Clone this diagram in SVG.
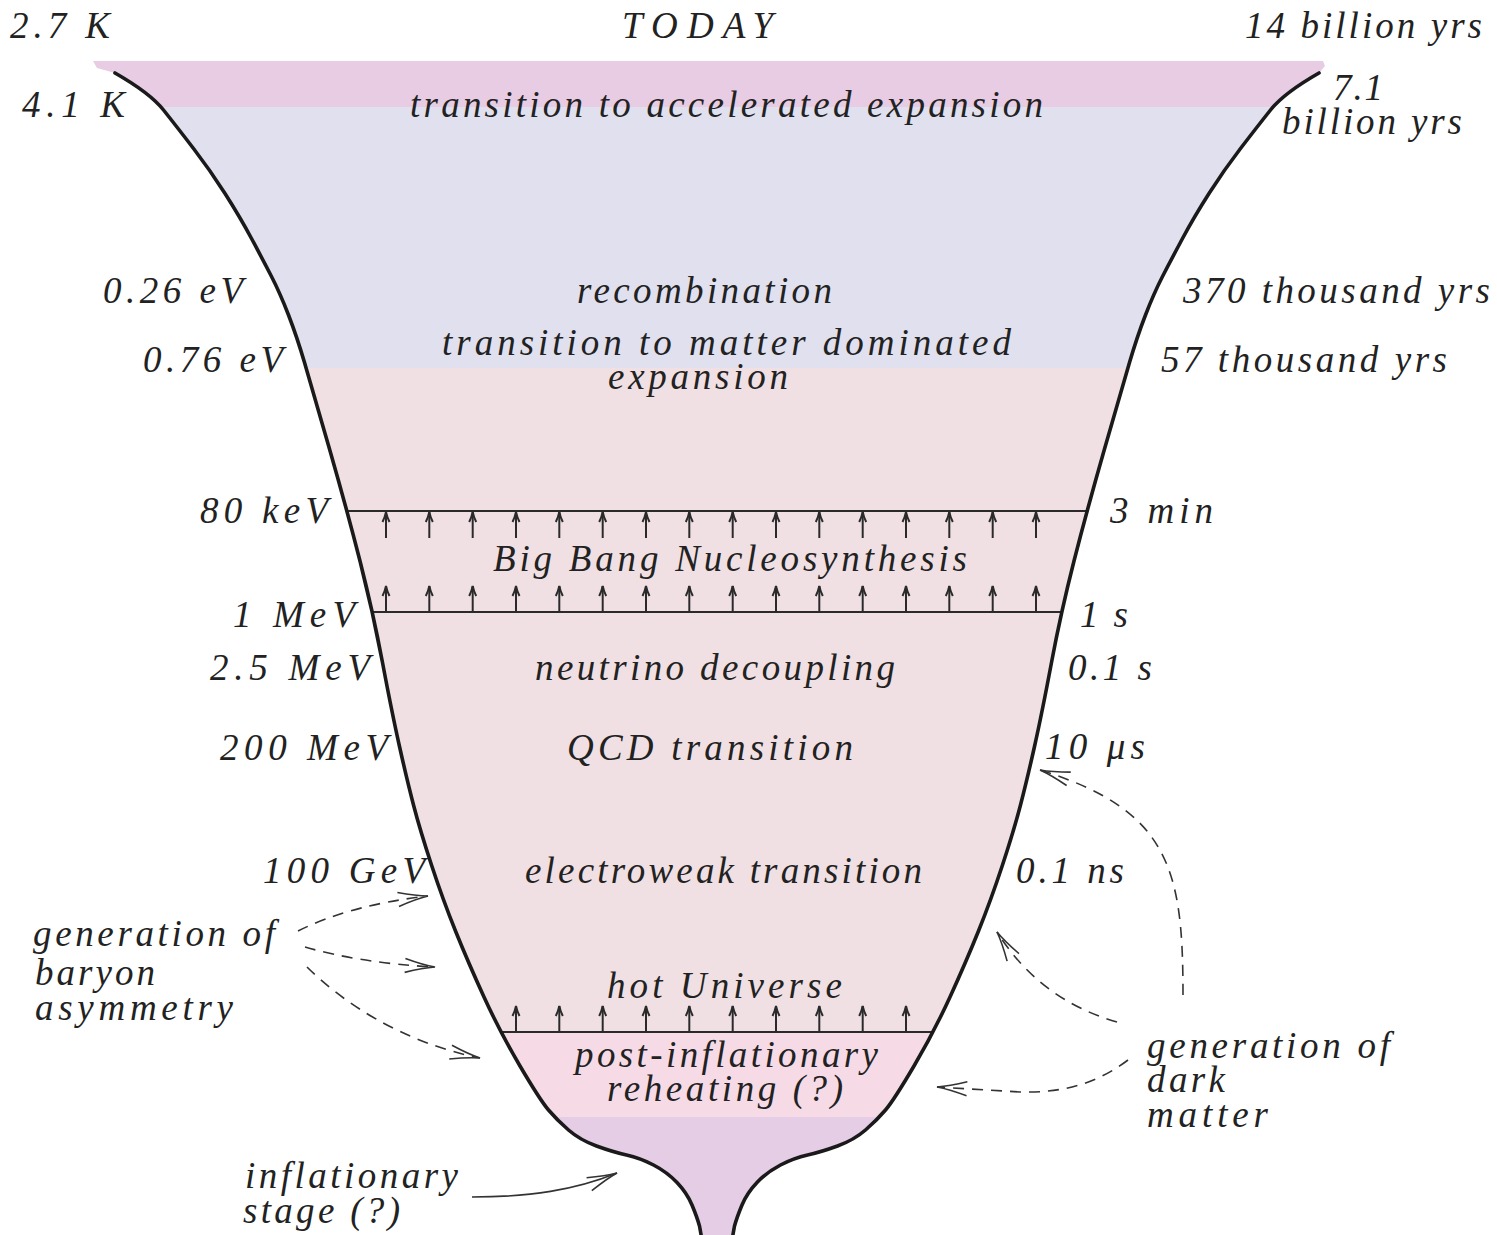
<svg xmlns="http://www.w3.org/2000/svg" xmlns:xlink="http://www.w3.org/1999/xlink" width="1497" height="1235" viewBox="0 0 1497 1235">
<style>
text{font-family:"Liberation Serif","DejaVu Serif",serif;font-style:italic;font-size:37px;fill:#222}
.outline{fill:none;stroke:#1a1a1a;stroke-width:3.6;stroke-linejoin:round;stroke-linecap:round}
.hline{stroke:#2a2a2a;stroke-width:2}
.tick line,.tick path{stroke:#2a2a2a;stroke-width:2;fill:none}
.dash{fill:none;stroke:#333;stroke-width:1.6;stroke-dasharray:11 8}
.solid{fill:none;stroke:#333;stroke-width:1.6}
</style>
<defs>
<path id="funnel" d="M115,73 Q150,93 163.5,110 Q177,127 193.5,148.5 Q210,170 225,193.5 Q240,217 251.5,238.5 Q263,260 271.5,276.5 Q280,293 288.5,315 Q297,337 304.5,362.5 Q312,388 329.5,449 Q347,510 360,561 Q373,612 382.5,662.5 Q392,713 399.5,746.5 Q407,780 413.5,805 Q420,830 431.5,865 Q443,900 455.5,931 Q468,962 484,997 Q500,1032 520,1066 Q540,1100 548.5,1110 Q557,1120 568.5,1130 Q580,1140 596.5,1146 Q613,1152 626.5,1155 Q640,1158 653.5,1165 Q667,1172 677,1182.5 Q687,1193 692,1205 Q697,1217 699.5,1226 L702,1240 L732,1240 L734.5,1226 Q737,1217 742,1205 Q747,1193 757,1182.5 Q767,1172 780.5,1165 Q794,1158 807.5,1155 Q821,1152 837.5,1146 Q854,1140 865.5,1130 Q877,1120 885.5,1110 Q894,1100 914,1066 Q934,1032 950,997 Q966,962 978.5,931 Q991,900 1002.5,865 Q1014,830 1020.5,805 Q1027,780 1034.5,746.5 Q1042,713 1051.5,662.5 Q1061,612 1074,561 Q1087,510 1104.5,449 Q1122,388 1129.5,362.5 Q1137,337 1145.5,315 Q1154,293 1162.5,276.5 Q1171,260 1182.5,238.5 Q1194,217 1209,193.5 Q1224,170 1240.5,148.5 Q1257,127 1270.5,110 Q1284,93 1319,73 L1325,66 L1323,61 L93,61 L97,68 Z"/>
<clipPath id="clipF"><use xlink:href="#funnel"/></clipPath>
<g id="tk" class="tick"><line x1="0" y1="0" x2="0" y2="-26"/><path d="M-3.5,-16 Q-1,-21 0,-26 Q1,-21 3.5,-16"/></g>
<marker id="oa" markerUnits="userSpaceOnUse" markerWidth="40" markerHeight="20" viewBox="-36 -10 40 20" refX="0" refY="0" orient="auto" overflow="visible">
<path d="M-30,-7 Q-12,-1.5 0,0 Q-12,1.5 -30,7" fill="none" stroke="#333" stroke-width="1.6"/>
</marker>
</defs>

<g id="bands" clip-path="url(#clipF)">
<rect x="80" y="55" width="1260" height="52" fill="#e7cce3"/>
<rect x="80" y="107" width="1260" height="261" fill="#e1e0ee"/>
<rect x="80" y="368" width="1260" height="664" fill="#f0e0e3"/>
<rect x="80" y="1032" width="1260" height="85" fill="#f6dbe7"/>
<rect x="80" y="1117" width="1260" height="125" fill="#e5cde5"/>
</g>

<g id="bbn-lines">
<line class="hline" x1="347" y1="511" x2="1088" y2="511"/>
<line class="hline" x1="373" y1="612" x2="1061" y2="612"/>
<line class="hline" x1="500" y1="1032" x2="934" y2="1032"/>
</g>

<g id="bbn-top-arrows">
<use xlink:href="#tk" x="386" y="538"/><use xlink:href="#tk" x="429.3" y="538"/><use xlink:href="#tk" x="472.7" y="538"/><use xlink:href="#tk" x="516" y="538"/><use xlink:href="#tk" x="559.3" y="538"/><use xlink:href="#tk" x="602.7" y="538"/><use xlink:href="#tk" x="646" y="538"/><use xlink:href="#tk" x="689.3" y="538"/><use xlink:href="#tk" x="732.7" y="538"/><use xlink:href="#tk" x="776" y="538"/><use xlink:href="#tk" x="819.3" y="538"/><use xlink:href="#tk" x="862.7" y="538"/><use xlink:href="#tk" x="906" y="538"/><use xlink:href="#tk" x="949.3" y="538"/><use xlink:href="#tk" x="992.7" y="538"/><use xlink:href="#tk" x="1036" y="538"/>
</g>
<g id="bbn-bottom-arrows">
<use xlink:href="#tk" x="386" y="612"/><use xlink:href="#tk" x="429.3" y="612"/><use xlink:href="#tk" x="472.7" y="612"/><use xlink:href="#tk" x="516" y="612"/><use xlink:href="#tk" x="559.3" y="612"/><use xlink:href="#tk" x="602.7" y="612"/><use xlink:href="#tk" x="646" y="612"/><use xlink:href="#tk" x="689.3" y="612"/><use xlink:href="#tk" x="732.7" y="612"/><use xlink:href="#tk" x="776" y="612"/><use xlink:href="#tk" x="819.3" y="612"/><use xlink:href="#tk" x="862.7" y="612"/><use xlink:href="#tk" x="906" y="612"/><use xlink:href="#tk" x="949.3" y="612"/><use xlink:href="#tk" x="992.7" y="612"/><use xlink:href="#tk" x="1036" y="612"/>
</g>
<g id="hot-arrows">
<use xlink:href="#tk" x="516" y="1032"/><use xlink:href="#tk" x="559.3" y="1032"/><use xlink:href="#tk" x="602.7" y="1032"/><use xlink:href="#tk" x="646" y="1032"/><use xlink:href="#tk" x="689.3" y="1032"/><use xlink:href="#tk" x="732.7" y="1032"/><use xlink:href="#tk" x="776" y="1032"/><use xlink:href="#tk" x="819.3" y="1032"/><use xlink:href="#tk" x="862.7" y="1032"/><use xlink:href="#tk" x="906" y="1032"/>
</g>

<g id="outline">
<path class="outline" d="M115,73 Q150,93 163.5,110 Q177,127 193.5,148.5 Q210,170 225,193.5 Q240,217 251.5,238.5 Q263,260 271.5,276.5 Q280,293 288.5,315 Q297,337 304.5,362.5 Q312,388 329.5,449 Q347,510 360,561 Q373,612 382.5,662.5 Q392,713 399.5,746.5 Q407,780 413.5,805 Q420,830 431.5,865 Q443,900 455.5,931 Q468,962 484,997 Q500,1032 520,1066 Q540,1100 548.5,1110 Q557,1120 568.5,1130 Q580,1140 596.5,1146 Q613,1152 626.5,1155 Q640,1158 653.5,1165 Q667,1172 677,1182.5 Q687,1193 692,1205 Q697,1217 699.5,1226 L702,1240"/>
<path class="outline" d="M732,1240 L734.5,1226 Q737,1217 742,1205 Q747,1193 757,1182.5 Q767,1172 780.5,1165 Q794,1158 807.5,1155 Q821,1152 837.5,1146 Q854,1140 865.5,1130 Q877,1120 885.5,1110 Q894,1100 914,1066 Q934,1032 950,997 Q966,962 978.5,931 Q991,900 1002.5,865 Q1014,830 1020.5,805 Q1027,780 1034.5,746.5 Q1042,713 1051.5,662.5 Q1061,612 1074,561 Q1087,510 1104.5,449 Q1122,388 1129.5,362.5 Q1137,337 1145.5,315 Q1154,293 1162.5,276.5 Q1171,260 1182.5,238.5 Q1194,217 1209,193.5 Q1224,170 1240.5,148.5 Q1257,127 1270.5,110 Q1284,93 1319,73"/>
</g>

<g id="connectors">
<path class="dash" d="M298,931 Q350,905 428,896" marker-end="url(#oa)"/>
<path class="dash" d="M305,947 Q360,963 435,967" marker-end="url(#oa)"/>
<path class="dash" d="M307,967 C340,1000 400,1042 480,1058" marker-end="url(#oa)"/>
<path class="dash" d="M1183,995 C1183,870 1170,810 1040,770" marker-end="url(#oa)"/>
<path class="dash" d="M1117,1022 Q1040,1000 997,932" marker-end="url(#oa)"/>
<path class="dash" d="M1128,1060 C1095,1085 1060,1093 1020,1092 L937,1087" marker-end="url(#oa)"/>
<path class="solid" d="M472,1197 C530,1197 575,1190 617,1173" marker-end="url(#oa)"/>
</g>

<g id="labels-left">
<text x="10" y="38" textLength="100">2.7 K</text>
<text x="22" y="117" textLength="103">4.1 K</text>
<text x="103" y="303" textLength="140">0.26 eV</text>
<text x="143" y="372" textLength="140">0.76 eV</text>
<text x="200" y="523" textLength="128">80 keV</text>
<text x="233" y="627" textLength="122">1 MeV</text>
<text x="210" y="680" textLength="160">2.5 MeV</text>
<text x="220" y="760" textLength="168">200 MeV</text>
<text x="263" y="883" textLength="162">100 GeV</text>
</g>
<g id="labels-right">
<text x="1245" y="38" textLength="237">14 billion yrs</text>
<text x="1333" y="100" textLength="50">7.1</text>
<text x="1282" y="134" textLength="180">billion yrs</text>
<text x="1183" y="303" textLength="307">370 thousand yrs</text>
<text x="1161" y="372" textLength="286">57 thousand yrs</text>
<text x="1110" y="523" textLength="103">3 min</text>
<text x="1080" y="627" textLength="48">1 s</text>
<text x="1068" y="680" textLength="84">0.1 s</text>
<text x="1045" y="759" textLength="100">10 μs</text>
<text x="1016" y="883" textLength="108">0.1 ns</text>
</g>
<g id="labels-center">
<text x="622" y="38" textLength="151">TODAY</text>
<text x="410" y="117" textLength="633">transition to accelerated expansion</text>
<text x="577" y="303" textLength="255">recombination</text>
<text x="442" y="355" textLength="569">transition to matter dominated</text>
<text x="608" y="389" textLength="180">expansion</text>
<text x="493" y="571" textLength="474">Big Bang Nucleosynthesis</text>
<text x="535" y="680" textLength="360">neutrino decoupling</text>
<text x="567" y="760" textLength="286">QCD transition</text>
<text x="525" y="883" textLength="397">electroweak transition</text>
<text x="607" y="998" textLength="235">hot Universe</text>
<text x="575" y="1067" textLength="303">post-inflationary</text>
<text x="607" y="1101" textLength="236">reheating (?)</text>
</g>
<g id="baryon-label">
<text x="33" y="946" textLength="242">generation of</text>
<text x="35" y="985" textLength="120">baryon</text>
<text x="35" y="1020" textLength="198">asymmetry</text>
</g>
<g id="darkmatter-label">
<text x="1147" y="1058" textLength="243">generation of</text>
<text x="1147" y="1092" textLength="78">dark</text>
<text x="1147" y="1127" textLength="121">matter</text>
</g>
<g id="inflation-label">
<text x="245" y="1188" textLength="213">inflationary</text>
<text x="243" y="1223" textLength="157">stage (?)</text>
</g>
</svg>
